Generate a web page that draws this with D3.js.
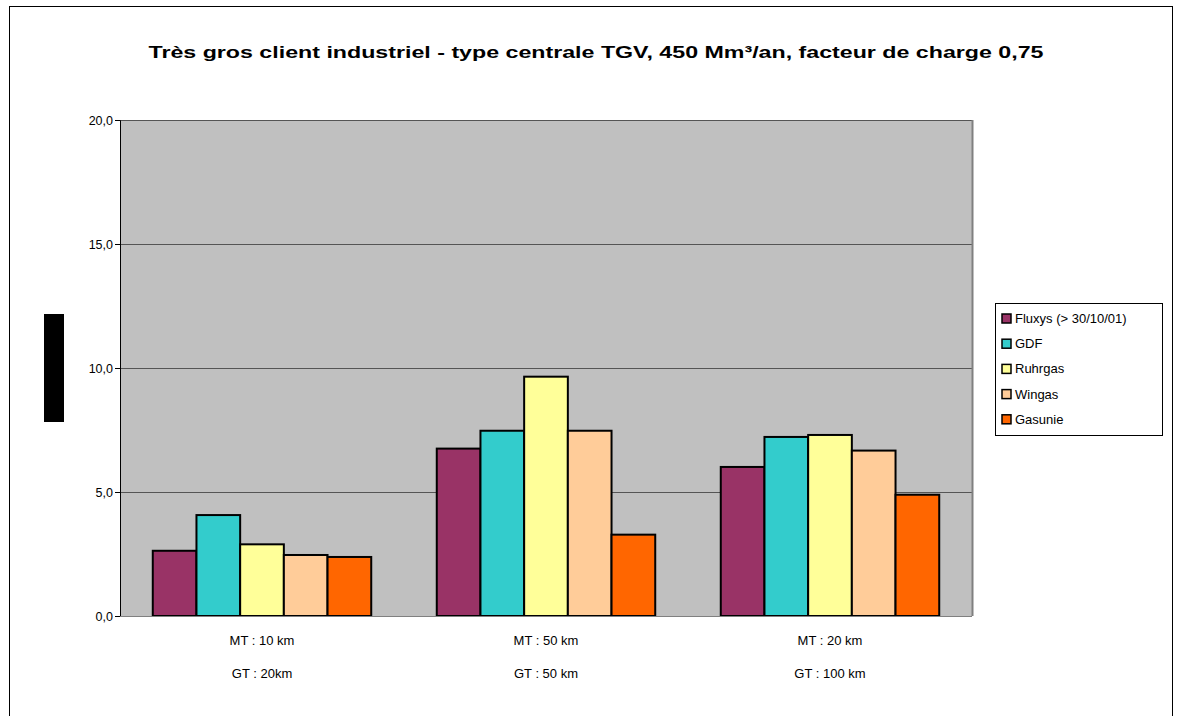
<!DOCTYPE html>
<html><head><meta charset="utf-8">
<script src="https://cdn.jsdelivr.net/npm/d3@7"></script>
<style>body{margin:0;background:#fff}svg{display:block}text{font-family:"Liberation Sans",Arial,sans-serif}</style>
</head><body><svg id="c" width="1179" height="716"></svg>
<script>
const title = "Très gros client industriel - type centrale TGV, 450 Mm³/an, facteur de charge 0,75";
const categoriesLine1 = ["MT : 10 km", "MT : 50 km", "MT : 20 km"];
const categoriesLine2 = ["GT : 20km", "GT : 50 km", "GT : 100 km"];
const seriesNames = ["Fluxys (> 30/10/01)", "GDF", "Ruhrgas", "Wingas", "Gasunie"];
const seriesColors = ["#993366", "#33CCCC", "#FFFF99", "#FFCC99", "#FF6600"];
const fluxys = [2.63, 6.75, 6.01];
const gdf = [4.07, 7.47, 7.22];
const ruhrgas = [2.89, 9.65, 7.30];
const wingas = [2.46, 7.47, 6.67];
const gasunie = [2.38, 3.28, 4.89];
const yTicks = [0, 5, 10, 15, 20];
const seriesValues = [fluxys, gdf, ruhrgas, wingas, gasunie];

const svg = d3.select("#c");
svg.append("rect").attr("x", 9.5).attr("y", 6.5).attr("width", 1163).attr("height", 712)
  .attr("fill", "#fff").attr("stroke", "#000").attr("stroke-width", 1);

const L = 120, R = 972, T = 120, B = 616;
const x0 = d3.scaleBand().domain(d3.range(3)).range([L, R]).paddingInner(0).paddingOuter(0);
const y = d3.scaleLinear().domain([0, 20]).range([B, T]);

svg.append("rect").attr("x", L).attr("y", T).attr("width", R - L).attr("height", B - T).attr("fill", "#C0C0C0");
svg.append("g").selectAll("line").data(yTicks.filter(d => d > 0)).join("line")
  .attr("x1", L).attr("x2", R).attr("y1", d => Math.round(y(d)) + 0.5).attr("y2", d => Math.round(y(d)) + 0.5)
  .attr("stroke", "#555").attr("stroke-width", 1);
svg.append("line").attr("x1", R + 0.5).attr("x2", R + 0.5).attr("y1", T).attr("y2", B).attr("stroke", "#808080").attr("stroke-width", 2);

const groupW = x0.bandwidth() / 1.3;
const x1 = d3.scaleBand().domain(d3.range(5)).range([0, groupW]).padding(0);
const g = svg.append("g");
seriesValues.forEach((vals, si) => {
  g.selectAll(null).data(vals).join("rect")
    .attr("x", (d, ci) => x0(ci) + (x0.bandwidth() - groupW) / 2 + x1(si))
    .attr("y", d => y(d))
    .attr("width", x1.bandwidth())
    .attr("height", d => y(0) - y(d))
    .attr("fill", seriesColors[si]).attr("stroke", "#000").attr("stroke-width", 2);
});

const yAxis = d3.axisLeft(y).tickValues(yTicks).tickSize(5).tickPadding(2).tickFormat(d => d3.format(".1f")(d).replace(".", ","));
const ya = svg.append("g").attr("transform", `translate(${L},0)`).call(yAxis);
ya.select(".domain").attr("stroke", "#000");
ya.selectAll(".tick line").attr("stroke", "#000");
ya.selectAll("text").attr("font-size", 12.5).attr("fill", "#000")
  .attr("font-family", '"Liberation Sans",Arial,sans-serif');
svg.append("line").attr("x1", L).attr("x2", R).attr("y1", B + 0.5).attr("y2", B + 0.5).attr("stroke", "#808080");

const xl = svg.append("g");
xl.selectAll(null).data(categoriesLine1).join("text")
  .attr("x", (d, i) => x0(i) + x0.bandwidth() / 2).attr("y", 645).attr("text-anchor", "middle")
  .attr("font-size", 13).text(d => d);
xl.selectAll(null).data(categoriesLine2).join("text")
  .attr("x", (d, i) => x0(i) + x0.bandwidth() / 2).attr("y", 678).attr("text-anchor", "middle")
  .attr("font-size", 13).text(d => d);

svg.append("rect").attr("x", 44).attr("y", 314).attr("width", 20).attr("height", 108).attr("fill", "#000");

svg.append("text").attr("x", 596).attr("y", 58).attr("text-anchor", "middle")
  .attr("font-size", 17).attr("font-weight", "bold").attr("textLength", 895).attr("lengthAdjust", "spacingAndGlyphs")
  .text(title);

const lg = svg.append("g");
lg.append("rect").attr("x", 995.5).attr("y", 303.5).attr("width", 167).attr("height", 132)
  .attr("fill", "#fff").attr("stroke", "#000");
seriesNames.forEach((n, i) => {
  const yy = 318 + i * 25.2;
  lg.append("rect").attr("x", 1002).attr("y", yy - 4).attr("width", 9).attr("height", 9)
    .attr("fill", seriesColors[i]).attr("stroke", "#000").attr("stroke-width", 1.5);
  lg.append("text").attr("x", 1015).attr("y", yy + 5).attr("font-size", 13).text(n);
});
</script></body></html>
